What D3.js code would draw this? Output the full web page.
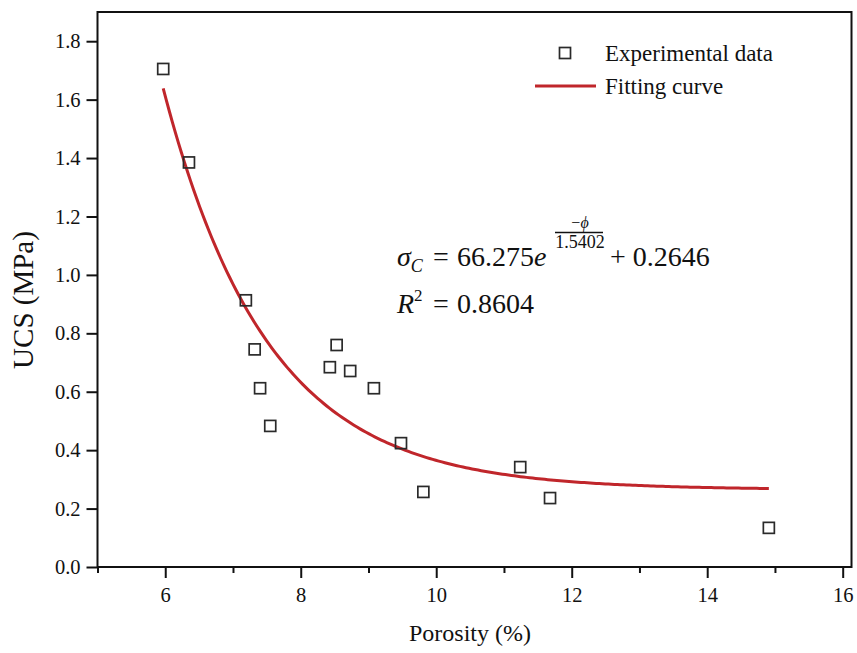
<!DOCTYPE html>
<html>
<head>
<meta charset="utf-8">
<script src="https://cdn.jsdelivr.net/npm/d3@7"></script>
<style>
  html, body { margin: 0; padding: 0; background: #fff; }
  svg { display: block; }
  text { font-family: "Liberation Serif", "Times New Roman", serif; fill: #111; }
</style>
</head>
<body>
<svg id="chart" width="857" height="653"></svg>
<script>
// Measured porosity (%) and uniaxial compressive strength (MPa)
const porosity = [5.97, 6.35, 7.19, 7.32, 7.40, 7.55, 8.43, 8.53, 8.73, 9.08, 9.48, 9.81, 11.24, 11.68, 14.91];
const ucs      = [1.705, 1.385, 0.913, 0.745, 0.612, 0.483, 0.684, 0.760, 0.671, 0.612, 0.424, 0.257, 0.342, 0.236, 0.134];

// Exponential fit: sigma_c = A * exp(-phi / t) + y0
const fitA = 66.275, fitT = 1.5402, fitY0 = 0.2646;

const xTicks = [6, 8, 10, 12, 14, 16];
const xMinorTicks = [5, 7, 9, 11, 13, 15];
const yTicks = [0.0, 0.2, 0.4, 0.6, 0.8, 1.0, 1.2, 1.4, 1.6, 1.8];

const serif = '"Liberation Serif", "Times New Roman", serif';
const svg = d3.select("#chart");
const plotL = 97.5, plotR = 851.5, plotT = 12, plotB = 567;

const x = d3.scaleLinear().domain([5, 16.13]).range([plotL, plotR]);
const y = d3.scaleLinear().domain([0, 1.9]).range([plotB, plotT]);

// Axes
const xAxis = d3.axisBottom(x).tickValues(xTicks).tickFormat(d3.format("d")).tickSize(11).tickPadding(9);
const xMinor = d3.axisBottom(x).tickValues(xMinorTicks).tickFormat("").tickSize(6);
const yAxis = d3.axisLeft(y).tickValues(yTicks).tickFormat(d3.format(".1f")).tickSize(11).tickPadding(6);

function styleAxis(g) {
  g.attr("font-family", serif);
  g.select(".domain").remove();
  g.selectAll("line").attr("stroke", "#111").attr("stroke-width", 2);
  g.selectAll("text").style("font-size", "20.5px").attr("fill", "#111").style("font-family", serif);
}

svg.append("g").attr("transform", `translate(0,${plotB})`).call(xAxis).call(styleAxis);
svg.append("g").attr("transform", `translate(0,${plotB})`).call(xMinor).call(styleAxis);
svg.append("g").attr("transform", `translate(${plotL},0)`).call(yAxis).call(styleAxis);

// Frame
svg.append("rect")
  .attr("x", plotL).attr("y", plotT)
  .attr("width", plotR - plotL).attr("height", plotB - plotT)
  .attr("fill", "none").attr("stroke", "#111").attr("stroke-width", 2);

// Fitting curve over the measured porosity range
const xMin = d3.min(porosity), xMax = d3.max(porosity);
const curve = d3.range(0, 201).map(i => {
  const p = xMin + (xMax - xMin) * i / 200;
  return [p, fitA * Math.exp(-p / fitT) + fitY0];
});
svg.append("path")
  .datum(curve)
  .attr("d", d3.line().x(d => x(d[0])).y(d => y(d[1])))
  .attr("fill", "none").attr("stroke", "#c0262b").attr("stroke-width", 3);

// Experimental points
const s = 11;
svg.append("g").selectAll("rect")
  .data(porosity.map((p, i) => [p, ucs[i]]))
  .join("rect")
  .attr("x", d => x(d[0]) - s / 2).attr("y", d => y(d[1]) - s / 2)
  .attr("width", s).attr("height", s)
  .attr("fill", "none").attr("stroke", "#2a2a2a").attr("stroke-width", 1.7);

// Legend
svg.append("rect").attr("x", 565 - s / 2).attr("y", 53 - s / 2).attr("width", s).attr("height", s)
  .attr("fill", "none").attr("stroke", "#2a2a2a").attr("stroke-width", 1.7);
svg.append("text").attr("x", 605).attr("y", 61).style("font-size", "23px").text("Experimental data");
svg.append("line").attr("x1", 535).attr("x2", 596).attr("y1", 86).attr("y2", 86)
  .attr("stroke", "#c0262b").attr("stroke-width", 3);
svg.append("text").attr("x", 605).attr("y", 94).style("font-size", "23px").text("Fitting curve");

// Fit equation
const eqY = 266;
const eq = svg.append("text").attr("x", 397).attr("y", eqY).style("font-size", "28px");
eq.append("tspan").style("font-style", "italic").text("σ");
eq.append("tspan").style("font-style", "italic").style("font-size", "18px").attr("dy", 6).text("C");
svg.append("text").attr("x", 433).attr("y", eqY).style("font-size", "28px").text("=");
const coef = svg.append("text").attr("x", 457).attr("y", eqY).style("font-size", "28px");
coef.append("tspan").text("66.275");
coef.append("tspan").style("font-style", "italic").text("e");
svg.append("line").attr("x1", 555).attr("x2", 603).attr("y1", 232.5).attr("y2", 232.5)
  .attr("stroke", "#111").attr("stroke-width", 1.3);
const num = svg.append("text").attr("x", 580).attr("y", 228).style("font-size", "16px").attr("text-anchor", "middle");
num.append("tspan").text("−");
num.append("tspan").style("font-style", "italic").text("ϕ");
svg.append("text").attr("x", 580).attr("y", 248).style("font-size", "18px")
  .attr("text-anchor", "middle").text("1.5402");
svg.append("text").attr("x", 610).attr("y", eqY).style("font-size", "28px").text("+ 0.2646");

const r2Y = 313;
const r2 = svg.append("text").attr("x", 397).attr("y", r2Y).style("font-size", "28px");
r2.append("tspan").style("font-style", "italic").text("R");
r2.append("tspan").style("font-size", "17px").attr("dy", -12).text("2");
svg.append("text").attr("x", 433).attr("y", r2Y).style("font-size", "28px").text("=");
svg.append("text").attr("x", 457).attr("y", r2Y).style("font-size", "28px").text("0.8604");

// Axis titles
svg.append("text").attr("x", 470).attr("y", 641).attr("text-anchor", "middle")
  .style("font-size", "24px").text("Porosity (%)");
svg.append("text").attr("transform", `translate(33,300) rotate(-90)`)
  .attr("text-anchor", "middle").style("font-size", "29px").text("UCS (MPa)");
</script>
</body>
</html>
